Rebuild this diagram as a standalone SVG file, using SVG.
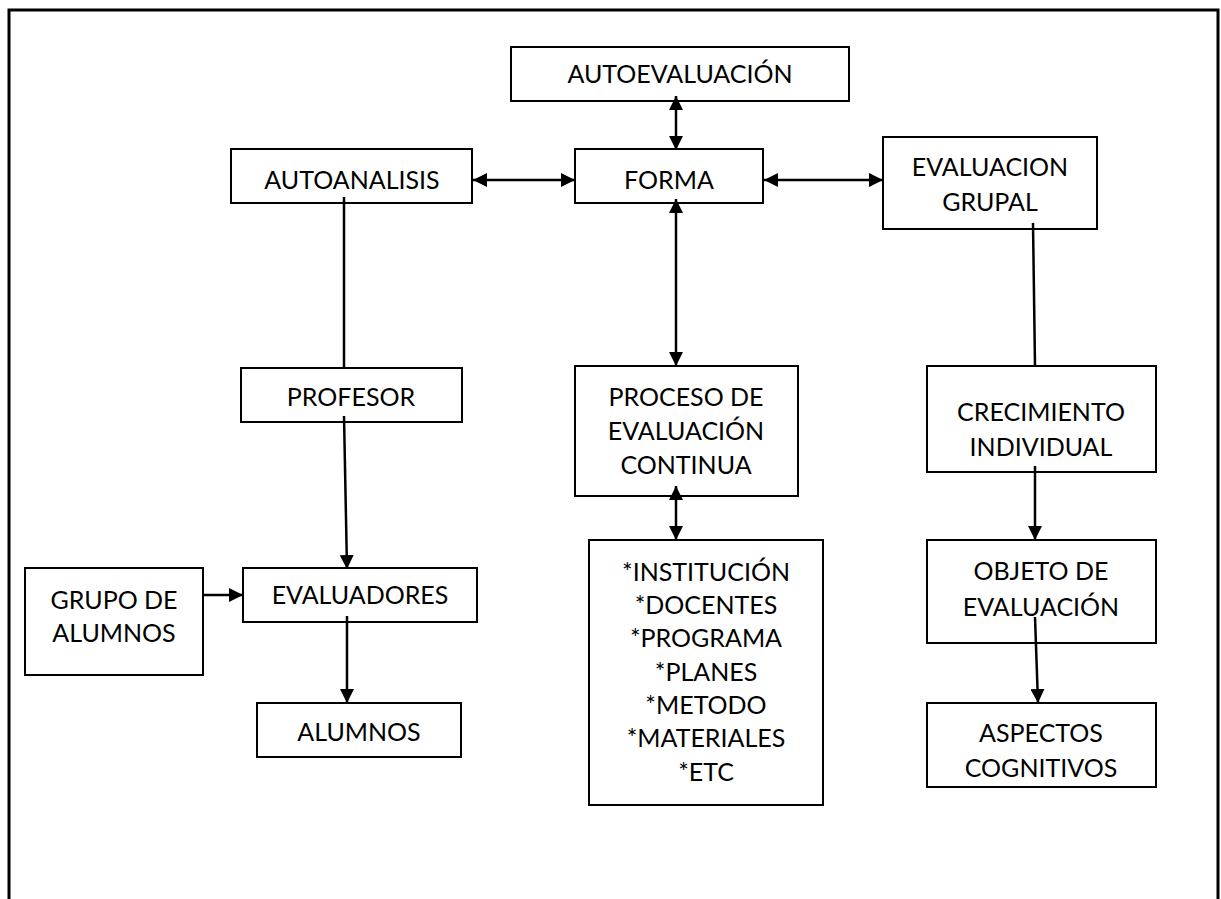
<svg xmlns="http://www.w3.org/2000/svg" width="1221" height="899" viewBox="0 0 1221 899">
<style>
.box{fill:#fff;stroke:#000;stroke-width:2}
.t{font-family:Lato,"Liberation Sans",sans-serif;font-size:25px;fill:#000;text-anchor:middle}
.c{stroke:#000;stroke-width:2.5;fill:none}
.frame{stroke:#000;stroke-width:3;fill:none}
</style>
<defs>
<marker id="ah" viewBox="0 0 14 14" refX="14" refY="7" markerWidth="14" markerHeight="14" markerUnits="userSpaceOnUse" orient="auto-start-reverse">
<path d="M0,0 L14,7 L0,14 z" fill="#000"/>
</marker>
</defs>
<rect width="1221" height="899" fill="#fff"/>
<path class="frame" d="M9,899 V10 H1218 V899"/>

<g id="autoevaluacion"><rect class="box" x="511" y="47" width="338" height="54"/><text class="t" x="680" y="83">AUTOEVALUACIÓN</text></g>
<g id="autoanalisis"><rect class="box" x="231" y="149" width="241" height="54"/><text class="t" x="352" y="189">AUTOANALISIS</text></g>
<g id="forma"><rect class="box" x="575" y="149" width="188" height="54"/><text class="t" x="669" y="189">FORMA</text></g>
<g id="evaluacion-grupal"><rect class="box" x="883" y="137" width="214" height="92"/><text class="t" x="990" y="176">EVALUACION</text><text class="t" x="990" y="211">GRUPAL</text></g>
<g id="profesor"><rect class="box" x="241" y="368" width="221" height="54"/><text class="t" x="351" y="406">PROFESOR</text></g>
<g id="proceso"><rect class="box" x="575" y="366" width="223" height="130"/><text class="t" x="686" y="406">PROCESO DE</text><text class="t" x="686" y="440">EVALUACIÓN</text><text class="t" x="686" y="474">CONTINUA</text></g>
<g id="crecimiento"><rect class="box" x="927" y="366" width="229" height="106"/><text class="t" x="1041" y="421">CRECIMIENTO</text><text class="t" x="1041" y="456">INDIVIDUAL</text></g>
<g id="grupo-alumnos"><rect class="box" x="25" y="568" width="178" height="107"/><text class="t" x="114" y="609">GRUPO DE</text><text class="t" x="114" y="642">ALUMNOS</text></g>
<g id="evaluadores"><rect class="box" x="243" y="568" width="234" height="54"/><text class="t" x="360" y="604">EVALUADORES</text></g>
<g id="lista"><rect class="box" x="589" y="540" width="234" height="265"/>
<text class="t" x="706" y="581">*INSTITUCIÓN</text><text class="t" x="706" y="614">*DOCENTES</text><text class="t" x="706" y="647">*PROGRAMA</text><text class="t" x="706" y="681">*PLANES</text><text class="t" x="706" y="714">*METODO</text><text class="t" x="706" y="747">*MATERIALES</text><text class="t" x="706" y="781">*ETC</text></g>
<g id="objeto"><rect class="box" x="927" y="540" width="229" height="103"/><text class="t" x="1041" y="580">OBJETO DE</text><text class="t" x="1041" y="616">EVALUACIÓN</text></g>
<g id="alumnos"><rect class="box" x="257" y="703" width="204" height="54"/><text class="t" x="359" y="741">ALUMNOS</text></g>
<g id="aspectos"><rect class="box" x="927" y="703" width="229" height="84"/><text class="t" x="1041" y="742">ASPECTOS</text><text class="t" x="1041" y="777">COGNITIVOS</text></g>

<g id="connectors">
<line class="c" x1="676" y1="96" x2="676" y2="150" marker-start="url(#ah)" marker-end="url(#ah)"/>
<line class="c" x1="473" y1="180" x2="575" y2="180" marker-start="url(#ah)" marker-end="url(#ah)"/>
<line class="c" x1="764" y1="180" x2="883" y2="180" marker-start="url(#ah)" marker-end="url(#ah)"/>
<line class="c" x1="676" y1="199" x2="676" y2="366" marker-start="url(#ah)" marker-end="url(#ah)"/>
<line class="c" x1="676" y1="486" x2="676" y2="540" marker-start="url(#ah)" marker-end="url(#ah)"/>
<line class="c" x1="344" y1="197" x2="344" y2="368"/>
<line class="c" x1="344" y1="416" x2="347" y2="569" marker-end="url(#ah)"/>
<line class="c" x1="203" y1="595" x2="243" y2="595" marker-end="url(#ah)"/>
<line class="c" x1="347" y1="616" x2="347" y2="703" marker-end="url(#ah)"/>
<line class="c" x1="1033" y1="223" x2="1035" y2="366"/>
<line class="c" x1="1035" y1="466" x2="1035" y2="540" marker-end="url(#ah)"/>
<line class="c" x1="1035" y1="617" x2="1038" y2="703" marker-end="url(#ah)"/>
</g>
</svg>
